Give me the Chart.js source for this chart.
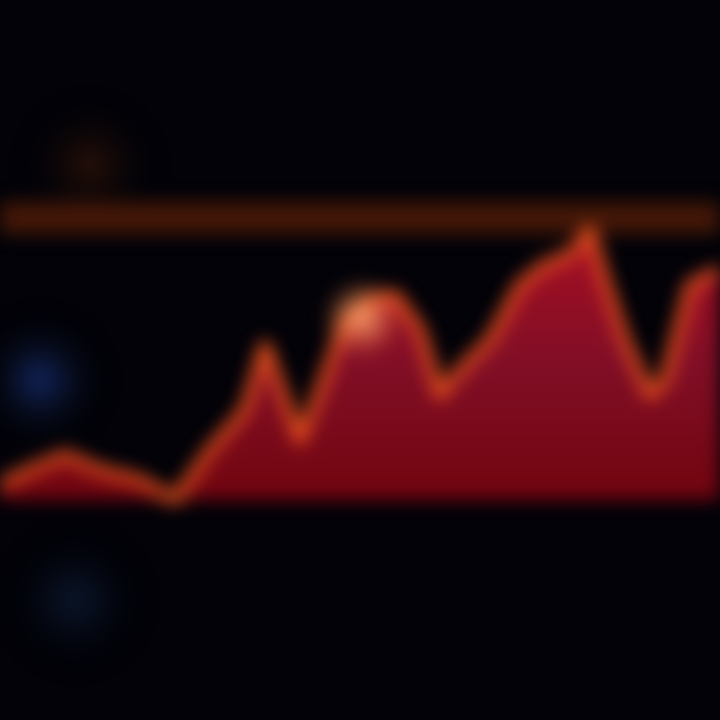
<!DOCTYPE html>
<html><head><meta charset="utf-8">
<script src="https://cdn.jsdelivr.net/npm/chart.js@4"></script>
<style>
html,body{margin:0;padding:0;background:#020208;overflow:hidden}
#wrap{width:720px;height:720px;position:relative}
canvas{filter:blur(9px)}
</style></head><body>
<div id="wrap"><canvas id="c" width="720" height="720"></canvas></div>
<script>
const xPositions=[0,30,65,100,140,175,210,245,265,285,300,320,345,370,395,420,440,460,490,520,545,570,590,605,625,650,665,690,720];
const seriesValues=[485,470,455,470,480,500,450,410,345,400,440,390,320,300,295,330,395,370,340,285,265,255,230,280,340,395,380,285,270];
const referenceLevel=218;
const baseLevel=500;

const glow={id:'glow',beforeDatasetsDraw(chart){
  const ctx=chart.ctx;
  const spots=[[40,380,70,'rgba(25,50,120,0.8)'],[75,600,75,'rgba(20,45,85,0.5)'],[90,165,70,'rgba(100,40,10,0.4)']];
  spots.forEach(([x,y,r,c])=>{const g=ctx.createRadialGradient(x,y,0,x,y,r);g.addColorStop(0,c);g.addColorStop(1,'rgba(0,0,0,0)');ctx.fillStyle=g;ctx.fillRect(x-r,y-r,2*r,2*r);});
},afterDatasetsDraw(chart){
  const ctx=chart.ctx;
  const g=ctx.createRadialGradient(362,318,0,362,318,40);g.addColorStop(0,'rgba(255,175,120,0.95)');g.addColorStop(1,'rgba(255,120,60,0)');ctx.fillStyle=g;ctx.fillRect(315,275,95,90);
}};

const ctx=document.getElementById('c').getContext('2d');
const grad=ctx.createLinearGradient(0,230,0,500);
grad.addColorStop(0,'rgba(175,15,35,0.95)');
grad.addColorStop(0.5,'rgba(135,15,40,0.95)');
grad.addColorStop(1,'rgba(120,5,15,0.95)');
new Chart(ctx,{type:'line',
 data:{datasets:[
  {data:xPositions.map((x,i)=>({x,y:seriesValues[i]})),borderColor:'#f2541e',borderWidth:10,borderJoinStyle:'round',fill:{value:baseLevel},backgroundColor:grad,pointRadius:0,tension:0},
  {data:[{x:0,y:referenceLevel},{x:720,y:referenceLevel}],borderColor:'#431707',borderWidth:32,pointRadius:0,fill:false}
 ]},
 options:{responsive:false,animation:false,layout:{padding:0},
  plugins:{legend:{display:false},tooltip:{enabled:false}},
  scales:{x:{type:'linear',min:0,max:720,display:false},y:{min:0,max:720,reverse:true,display:false}}},
 plugins:[glow]});
</script></body></html>
